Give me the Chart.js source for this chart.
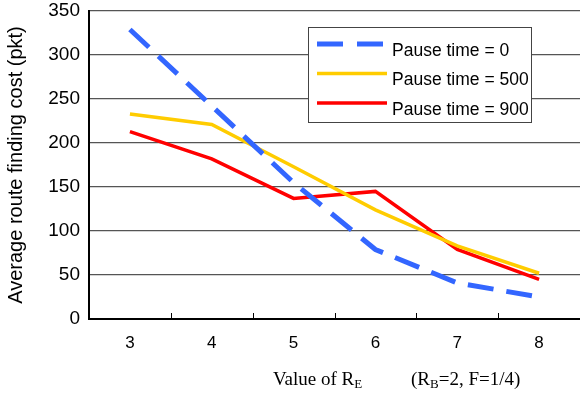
<!DOCTYPE html>
<html>
<head>
<meta charset="utf-8">
<script src="https://cdn.jsdelivr.net/npm/chart.js@4"></script>
<style>
  html, body { margin: 0; padding: 0; background: #fff; }
  #wrap { width: 580px; height: 394px; }
</style>
</head>
<body>
<div id="wrap"><canvas id="myChart" width="580" height="394"></canvas></div>
<script>
// values
var categories = ['3', '4', '5', '6', '7', '8'];
var pause0 = [329, 242, 155, 79, 41, 25];
var pause500 = [233, 221, 173, 124, 83, 52];
var pause900 = [213, 182, 137, 145, 79, 45];
var seriesNames = ['Pause time = 0', 'Pause time = 500', 'Pause time = 900'];
var yTicks = [0, 50, 100, 150, 200, 250, 300, 350];

const ctx = document.getElementById('myChart');

// legend box drawn inside the plot, plus x-axis ticks and title with subscripts
const extras = {
    id: 'extras',
    afterDraw(chart) {
        const c = chart.ctx;
        const xs = chart.scales.x;
        const area = chart.chartArea;

        // small tick marks between categories, pointing up from the axis
        c.save();
        c.strokeStyle = '#000';
        c.lineWidth = 1;
        for (let i = 1; i < categories.length; i++) {
            const px = (xs.getPixelForValue(i - 1) + xs.getPixelForValue(i)) / 2;
            c.beginPath();
            c.moveTo(Math.round(px) + 0.5, area.bottom);
            c.lineTo(Math.round(px) + 0.5, area.bottom - 6);
            c.stroke();
        }
        c.restore();

        // legend
        const bx = 308, by = 27, bw = 223, bh = 95;
        c.save();
        c.fillStyle = '#fff';
        c.fillRect(bx, by, bw, bh);
        c.strokeStyle = '#444';
        c.lineWidth = 1;
        c.strokeRect(bx + 0.5, by + 0.5, bw, bh);
        c.font = '17.5px "Liberation Sans", Arial, sans-serif';
        c.textBaseline = 'middle';
        chart.data.datasets.forEach(function (ds, i) {
            const ly = by + 17 + i * 29.5;
            c.beginPath();
            c.strokeStyle = ds.borderColor;
            c.lineWidth = ds.borderWidth;
            c.setLineDash(ds.borderDash ? [26, 14] : []);
            c.moveTo(bx + 9, ly);
            c.lineTo(bx + 79, ly);
            c.stroke();
            c.setLineDash([]);
            c.fillStyle = '#000';
            c.fillText(ds.label, bx + 84, ly + 7);
        });
        c.restore();

        // x axis title (serif, with subscripts)
        c.save();
        c.fillStyle = '#000';
        c.textBaseline = 'alphabetic';
        const base = 385;
        let x = 273;
        function piece(txt, size, dy) {
            c.font = size + 'px "Liberation Serif", "Times New Roman", serif';
            c.fillText(txt, x, base + dy);
            x += c.measureText(txt).width;
        }
        piece('Value of R', 19, 0);
        piece('E', 13, 3);
        x = 411;
        piece('(R', 19, 0);
        piece('B', 13, 3);
        piece('=2, F=1/4)', 19, 0);
        c.restore();
    }
};

new Chart(ctx, {
    type: 'line',
    data: {
        labels: categories,
        datasets: [{
            label: seriesNames[0],
            data: pause0,
            borderColor: '#3366ff',
            borderWidth: 5,
            borderDash: [26, 13],
            pointRadius: 0,
            tension: 0
        }, {
            label: seriesNames[1],
            data: pause500,
            borderColor: '#ffcc00',
            borderWidth: 3.5,
            pointRadius: 0,
            tension: 0
        }, {
            label: seriesNames[2],
            data: pause900,
            borderColor: '#ff0000',
            borderWidth: 3.5,
            pointRadius: 0,
            tension: 0
        }]
    },
    options: {
        responsive: false,
        animation: false,
        layout: { padding: { top: 11, right: 0, left: 0, bottom: 0 } },
        plugins: {
            legend: { display: false },
            tooltip: { enabled: false }
        },
        scales: {
            x: {
                offset: true,
                grid: { display: false, drawTicks: false },
                border: { color: '#000', width: 2 },
                ticks: {
                    color: '#000',
                    padding: 14,
                    font: { family: '"Liberation Sans", Arial, sans-serif', size: 17 }
                },
                afterFit: function (scale) { scale.height = 75; }
            },
            y: {
                min: 0,
                max: 350,
                afterBuildTicks: function (scale) {
                    scale.ticks = yTicks.map(function (v) { return { value: v }; });
                },
                grid: {
                    drawTicks: false,
                    color: function (c) { return c.tick && c.tick.value === 0 ? '#000' : '#555'; },
                    lineWidth: function (c) { return c.tick && c.tick.value === 0 ? 2 : 1.3; }
                },
                border: { color: '#000', width: 2 },
                ticks: {
                    color: '#000',
                    padding: 9,
                    font: { family: '"Liberation Sans", Arial, sans-serif', size: 19 }
                },
                title: {
                    display: true,
                    text: 'Average route finding cost (pkt)',
                    color: '#000',
                    padding: { top: 4, bottom: 0 },
                    font: { family: '"Liberation Sans", Arial, sans-serif', size: 20 }
                },
                afterFit: function (scale) {
                    scale.width = 89;
                    scale.paddingTop = 0;
                    scale.paddingBottom = 0;
                }
            }
        }
    },
    plugins: [extras]
});
</script>
</body>
</html>
